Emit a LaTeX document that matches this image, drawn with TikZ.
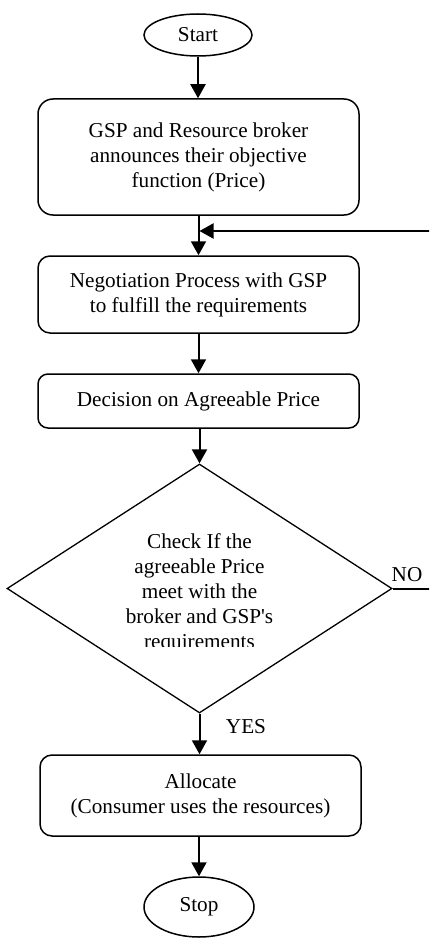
\documentclass[tikz,border=0pt]{standalone}
\usepackage{fontspec}
\setmainfont{Liberation Serif}
\usetikzlibrary{shapes.geometric,arrows.meta}
\begin{document}
\begin{tikzpicture}[x=1pt,y=-1pt,
  base/.style={font=\fontsize{21.2}{25}\selectfont, align=center, inner sep=0pt},
  term/.style={base, ellipse, draw, line width=1.5pt},
  proc/.style={base, rectangle, draw, line width=1.5pt, minimum width=321pt},
  decision/.style={diamond, draw, line width=1.3pt, inner sep=0pt},
  flow/.style={line width=2pt, -{Triangle[length=14pt,width=15pt]}},
  lbl/.style={base}]
\useasboundingbox (0,0) rectangle (429,939);

% terminals and process steps
\node[term, minimum width=108pt, minimum height=42pt] (start) at (198,35) {Start};
\node[proc, rounded corners=15pt, minimum height=116pt] (announce) at (198.5,157)
  {GSP and Resource broker\\announces their objective\\function (Price)};
\node[proc, rounded corners=12pt, minimum height=77pt] (negot) at (198.5,294.5)
  {Negotiation Process with GSP\\to fulfill the requirements};
\node[proc, rounded corners=10pt, minimum height=54pt] (decide) at (198.5,401)
  {Decision on Agreeable Price};
\node[decision, minimum width=385pt, minimum height=249pt] (check) at (199.5,588.5) {};
\begin{scope}
  \clip (100,520) rectangle (300,646);
  \node[base] (checktext) at (199.5,593)
    {Check If the\\agreeable Price\\meet with the\\broker and GSP\textquotesingle s\\requirements};
\end{scope}
\node[proc, rounded corners=12pt, minimum height=81pt] (alloc) at (200.5,795.5)
  {Allocate\\(Consumer uses the resources)};
\node[term, minimum width=110pt, minimum height=60pt] (stop) at (199,907) {Stop};

% branch labels
\node[lbl] (no) at (407,575) {NO};
\node[lbl] (yes) at (246,727) {YES};

% flow arrows
\draw[flow] (start.south) -- (start.south |- announce.north);
\draw[flow] (announce.south) -- (negot.north);
\draw[flow] (negot.south) -- (decide.north);
\draw[flow] (check.north |- decide.south) -- (check.north);
\draw[flow] (check.south) -- (check.south |- alloc.north);
\draw[flow] (stop.north |- alloc.south) -- (stop.north);

% loop back from the NO branch
\coordinate (mergeY) at (0,231);
\coordinate (merge) at (announce.south |- mergeY);
\begin{scope}
  \clip (0,0) rectangle (429,939);
  \draw[flow] (check.east) -- (445,588.5) -- (445,231) -- ([xshift=1pt]merge);
\end{scope}
\end{tikzpicture}
\end{document}
